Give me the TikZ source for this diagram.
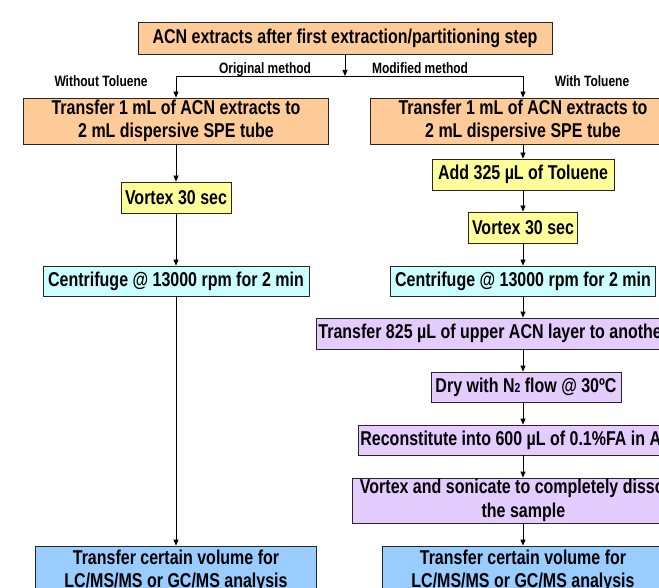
\documentclass[tikz,border=0pt]{standalone}
\usepackage{fontspec}
\setmainfont{Liberation Sans}[FakeStretch=0.80]
\usetikzlibrary{arrows.meta, positioning}
\definecolor{peach}{HTML}{FFCC99}
\definecolor{paleyellow}{HTML}{FFFF99}
\definecolor{palecyan}{HTML}{CCFFFF}
\definecolor{lilac}{HTML}{E5CCFF}
\definecolor{skyblue}{HTML}{99CCFF}
\tikzset{
    font=\bfseries,
    >={Triangle[length=6pt, width=5pt]},
    % Colors
    boxPeach/.style={fill=peach},
    boxYellow/.style={fill=paleyellow},
    boxCyan/.style={fill=palecyan},
    boxLilac/.style={fill=lilac},
    boxBlue/.style={fill=skyblue},
    % Shapes
    stepbox/.style={rectangle, draw=black!85, line width=0.8pt, inner sep=1pt, align=center,
                    font=\fontsize{20}{23.5}\selectfont\bfseries},
    % Flow & Labels
    flow/.style={->, line width=0.8pt},
    lbl/.style={inner sep=0pt, anchor=base, font=\fontsize{15}{16}\selectfont\bfseries}
}
\begin{document}
\begin{tikzpicture}[x=1pt, y=-1pt]
\clip (0,0) rectangle (659,588);
\fill[white] (0,0) rectangle (659,588);

\node[stepbox, boxPeach, minimum width=414, minimum height=32] (acn) at (345,38) {ACN extracts after first extraction/partitioning step};
\coordinate (split) at (345,76);

% original method
\node[stepbox, boxPeach, minimum width=305, minimum height=46] (origTransfer) at (176,121) {Transfer 1 mL of ACN extracts to\\2 mL dispersive SPE tube};
\node[stepbox, boxYellow, minimum width=110, minimum height=31] (origVortex) at (176,197.5) {Vortex 30 sec};
\node[stepbox, boxCyan, minimum width=266, minimum height=30] (origSpin) at (176,281) {Centrifuge @ 13000 rpm for 2 min};
\node[stepbox, boxBlue, minimum width=281, minimum height=50] (origFinal) at (176,571) {Transfer certain volume for\\LC/MS/MS or GC/MS analysis};

% modified method
\node[stepbox, boxPeach, minimum width=305, minimum height=46] (modTransfer) at (523,121) {Transfer 1 mL of ACN extracts to\\2 mL dispersive SPE tube};
\node[stepbox, boxYellow, minimum width=182, minimum height=31] (modToluene) at (523,174.5) {Add 325 µL of Toluene};
\node[stepbox, boxYellow, minimum width=109, minimum height=31] (modVortex) at (523,227.5) {Vortex 30 sec};
\node[stepbox, boxCyan, minimum width=265, minimum height=30] (modSpin) at (523,281) {Centrifuge @ 13000 rpm for 2 min};
\node[stepbox, boxLilac, minimum height=31, inner xsep=2pt, anchor=west] (modLayer) at (316,333.5) {Transfer 825 µL of upper ACN layer to another tube};
\node[stepbox, boxLilac, minimum width=190, minimum height=30] (modDry) at (526,387) {Dry with N{\fontsize{13}{13}\selectfont 2} flow @ 30ºC};
\node[stepbox, boxLilac, minimum height=30, inner xsep=2pt, anchor=west] (modRecon) at (358,440) {Reconstitute into 600 µL of 0.1\%FA in ACN};
\node[stepbox, boxLilac, minimum width=342, minimum height=45, anchor=west] (modSonic) at (352,500.5) {Vortex and sonicate to completely dissolve\\the sample};
\node[stepbox, boxBlue, minimum width=282, minimum height=50] (modFinal) at (523,571) {Transfer certain volume for\\LC/MS/MS or GC/MS analysis};

% labels
\node[lbl] (lblOrig) at (265,74) {Original method};
\node[lbl] (lblMod) at (420,74) {Modified method};
\node[lbl] (lblWithout) at (101,87) {Without Toluene};
\node[lbl] (lblWith) at (592,87) {With Toluene};

\draw[flow] (acn) -- (split);
\draw[flow] (split) -| (origTransfer);
\draw[flow] (split) -| (modTransfer);
\draw[flow] (origTransfer) -- (origVortex);
\draw[flow] (origVortex) -- (origSpin);
\draw[flow] (origSpin) -- (origFinal);
\draw[flow] (modTransfer) -- (modToluene);
\draw[flow] (modToluene) -- (modVortex);
\draw[flow] (modVortex) -- (modSpin);
\draw[flow] (modSpin) -- (modLayer.north -| modSpin);
\draw[flow] (modLayer.south -| modSpin) -- (modDry.north -| modSpin);
\draw[flow] (modDry.south -| modSpin) -- (modRecon.north -| modSpin);
\draw[flow] (modRecon.south -| modSpin) -- (modSonic.north -| modSpin);
\draw[flow] (modSonic.south -| modSpin) -- (modFinal);

\end{tikzpicture}
\end{document}
